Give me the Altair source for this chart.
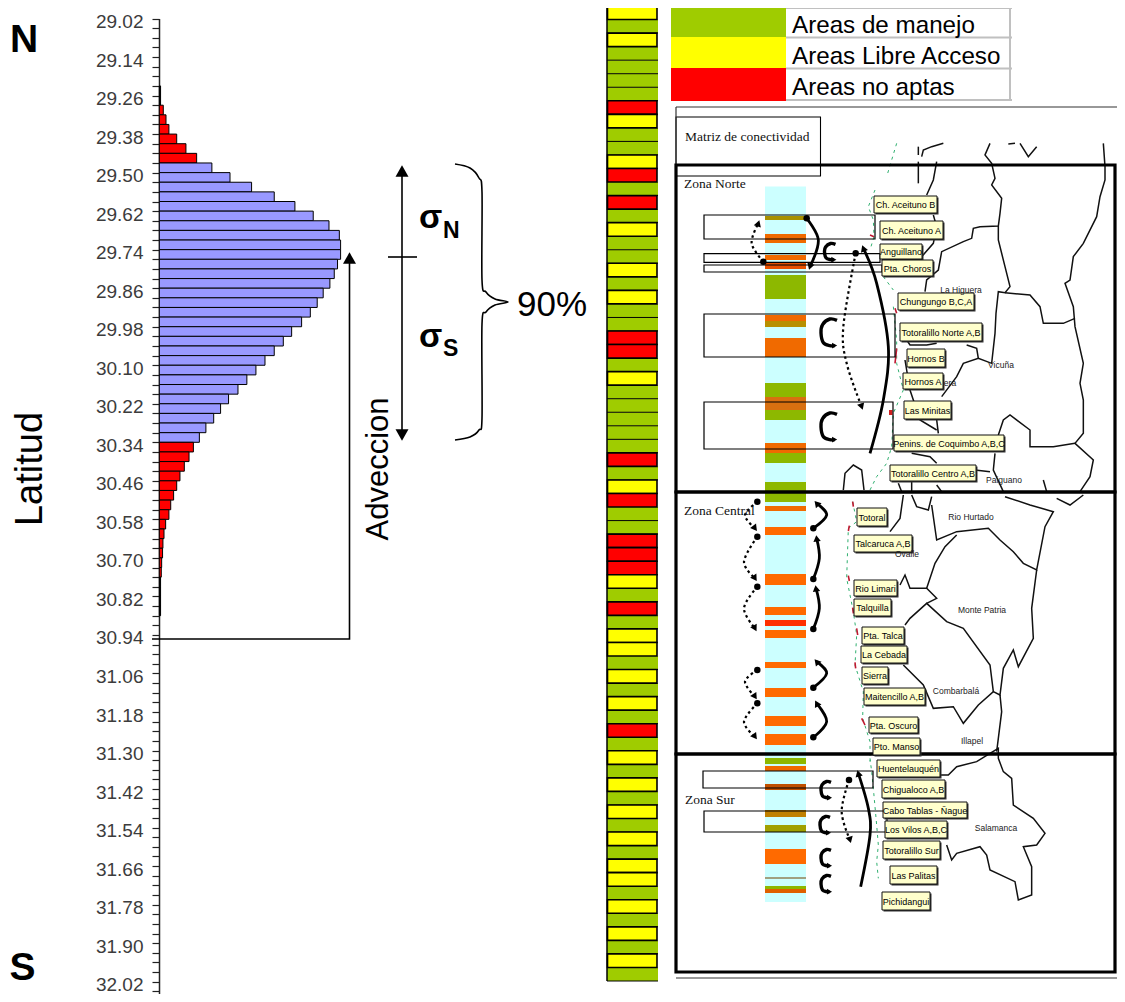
import math
import altair as alt
import pandas as pd

# ---------- histogram of latitude ----------
lat_start = 29.02
lat_step = 0.03
first_bin = 7
bin_freq = [0.7, 0.7, 2.2, 3.7, 5.3, 9.6, 14.7, 20.6,
            29.0, 39.0, 50.9, 63.4, 74.8, 84.9, 93.6, 99.3, 100, 100, 98.3, 96.5, 94.1, 90.4, 87.1, 83.3, 78.5, 73.0,
            68.4, 63.4, 58.3, 53.3, 48.3, 43.4, 38.2, 33.8, 30.0, 25.7, 22.1,
            18.8, 16.4, 13.8, 11.4, 9.6, 7.9, 6.3, 5.3, 3.5, 2.6, 2.0, 1.8, 1.3, 1.1,
            0.7, 0.7, 0.7, 0.7]
bin_zone = ['k'] * 2 + ['r'] * 6 + ['b'] * 29 + ['r'] * 14 + ['k'] * 4
zone_fill = {'k': '#000000', 'r': '#FF0000', 'b': '#9999FF'}

# ---------- management stripes ----------
stripe_class = list('ygygggg' 'ryggyrgrgyggygyggr' 'rgygggggrgyrggrrrygrgyyg' 'ygygrgygygygygyygygygyg')
stripe_fill = {'g': '#9FCC00', 'y': '#FFFF00', 'r': '#FF0000'}

legend_names = ['Areas de manejo', 'Areas Libre Acceso', 'Areas no aptas']
legend_colors = ['#9FCC00', '#FFFF00', '#FF0000']

# ---------- connectivity panel: strip bands (y from, y to, colour) ----------
band_y0 = [216, 234, 255, 262, 275, 315, 321, 338, 383, 397, 443, 453, 482, 506, 527, 574, 607, 620, 630, 662, 688, 716, 734,
           758, 766, 784, 810, 825, 849, 877, 886, 889]
band_y1 = [220, 243, 260, 269, 299, 321, 327, 357, 420, 410, 453, 463, 502, 511, 535, 585, 615, 626, 638, 668, 697, 726, 745,
           764, 771, 790, 817, 832, 864, 879, 889, 893]
band_col = ['#A89000', '#F06A00', '#F06A00', '#E85000', '#8DB800', '#F06A00', '#B89000', '#F06A00', '#8DB800', '#D87010',
            '#F06A00', '#8DB800', '#8DB800', '#F06A00', '#FF6A00', '#FF6A00', '#FF6A00', '#FF3000', '#FF6A00', '#FF6A00',
            '#FF6A00', '#FF6A00', '#FF6A00', '#8DB800', '#F06A00', '#C05000', '#C08000', '#A0A000', '#FF6A00', '#A0A080',
            '#8DB800', '#E06000']

# yellow place boxes: name, left, right, top, bottom
place_names = ['Ch. Aceituno B', 'Ch. Aceituno A', 'Anguillano', 'Pta. Choros', 'Chungungo B,C,A', 'Totoralillo Norte A,B',
               'Hornos B', 'Hornos A', 'Las Minitas', 'Penins. de Coquimbo A,B,C', 'Totoralillo Centro A,B',
               'Totoral', 'Talcaruca A,B', 'Rio Limari', 'Talquilla', 'Pta. Talca', 'La Cebada', 'Sierra',
               'Maitencillo A,B', 'Pta. Oscuro', 'Pto. Manso',
               'Huentelauquén', 'Chigualoco A,B', 'Cabo Tablas - Ñague', 'Los Vilos A,B,C', 'Totoralillo Sur',
               'Las Palitas', 'Pichidangui']
place_x0 = [874, 880, 880, 882, 898, 900, 907, 903, 904, 894, 890, 857, 854, 854, 854, 862, 861, 862, 864, 869, 873,
            877, 882, 883, 885, 883, 890, 882]
place_x1 = [937, 943, 922, 933, 974, 982, 945, 943, 951, 1004, 976, 887, 912, 897, 891, 904, 907, 888, 925, 918, 920,
            940, 945, 967, 947, 940, 937, 930]
place_y0 = [196, 221, 244, 260, 293, 323, 349, 373, 401, 435, 465, 508, 535, 580, 599, 627, 646, 667, 688, 717, 738,
            760, 780, 802, 821, 841, 866, 892]
place_y1 = [213, 239, 259, 276, 310, 341, 367, 389, 419, 451, 481, 526, 552, 596, 616, 644, 663, 684, 705, 733, 755,
            777, 798, 818, 838, 859, 884, 910]

town_names = ['La Higuera', 'Vicuña', 'era', 'Paiguano', 'Rio Hurtado', 'Ovalle', 'Monte Patria', 'Combarbalá', 'Illapel',
              'Salamanca']
town_x = [961, 1001, 950, 1004, 971, 907, 982, 956, 972, 996]
town_y = [293, 368, 386, 483, 520, 557, 613, 694, 744, 831]

# map outlines
map_lines_n = [
    [(755, 170), (760, 150), (785, 140), (820, 130)],
    [(800, 185), (790, 240), (770, 285)],
    [(745, 140), (745, 165)],
    [(745, 185), (745, 250)],
    [(960, 130), (945, 165), (965, 190), (975, 235), (965, 255), (995, 295), (990, 340), (985, 378), (930, 380), (910, 385),
     (905, 415), (880, 425), (815, 455), (805, 510), (770, 540), (765, 575)],
    [(985, 378), (985, 420), (1005, 500), (1020, 560), (1005, 578), (985, 575), (978, 640), (975, 700), (965, 790), (925, 775),
     (880, 790), (860, 830), (815, 890)],
    [(1005, 578), (1080, 585), (1110, 620), (1120, 670), (1180, 670), (1215, 655)],
    [(1300, 130), (1305, 200), (1305, 240), (1290, 290), (1280, 350), (1240, 430), (1210, 470), (1200, 540), (1185, 550),
     (1210, 620), (1215, 680), (1240, 790), (1230, 850), (1240, 900), (1240, 1000), (1215, 1030), (1270, 1080), (1260, 1130),
     (1230, 1175)],
    [(1215, 1030), (1150, 1040), (1080, 1040), (1080, 990), (1020, 945), (1000, 960), (985, 1005)],
    [(1050, 130), (1075, 170), (1100, 140)],
    [(1015, 132), (1035, 130)],
    [(690, 690), (720, 735), (770, 735), (800, 730)],
    [(890, 735), (920, 745), (925, 775)],
    [(705, 780), (720, 870), (750, 960), (800, 990)],
    [(800, 960), (805, 1000)],
    [(790, 345), (800, 380), (790, 430), (755, 470)],
    [(975, 1060), (970, 1110), (1000, 1175)],
    [(1120, 1140), (1130, 1175)],
    [(725, 1060), (780, 1070), (800, 1090)],
    [(915, 1110), (960, 1115)],
    [(725, 1145), (725, 1175)],
    [(685, 1150), (695, 1175)],
    [(800, 1155), (815, 1175)],
    [(520, 1170), (525, 1120), (550, 1095), (575, 1110), (582, 1170)],
]
map_lines_c = [
    [(700, 30), (690, 100), (660, 140)],
    [(725, 30), (740, 65), (775, 75), (785, 35)],
    [(785, 60), (800, 165), (860, 140), (955, 130), (990, 165), (1030, 200), (1060, 235), (1100, 255), (1125, 125), (1150, 80),
     (1080, 60), (1005, 35)],
    [(1100, 255), (1085, 370), (1090, 460), (1045, 545), (1030, 495), (1000, 550), (990, 630), (970, 620), (925, 660), (880, 715),
     (850, 665), (790, 670), (760, 600), (700, 540)],
    [(990, 630), (995, 680), (980, 800)],
    [(970, 620), (960, 540), (880, 430), (830, 410), (770, 355), (720, 400), (705, 420)],
    [(770, 355), (800, 340), (770, 310), (720, 310), (705, 270), (690, 300)],
    [(770, 310), (795, 235), (825, 185), (860, 150)],
    [(1240, 30), (1200, 60), (1160, 40)],
]
map_lines_s = [
    [(810, 90), (835, 90), (860, 65), (920, 50), (960, 25), (985, 10), (985, 40), (1000, 80), (1025, 100), (1030, 180), (1090, 220),
     (1125, 265), (1100, 300), (1060, 305), (1085, 365), (1085, 450), (1045, 465), (1035, 410), (960, 375), (950, 330), (930, 305),
     (860, 325), (845, 345), (830, 300)],
]
coast_n = [
    [(680, 130), (650, 230)],
    [(615, 270), (595, 320), (610, 360), (612, 410), (600, 450)],
    [(640, 530), (670, 570)],
    [(670, 620), (680, 720), (680, 790), (700, 870), (670, 940), (665, 1040), (650, 1090), (620, 1130), (600, 1170)],
]
coast_c = [[(548, 50), (560, 110), (535, 130), (530, 280), (550, 380), (560, 450), (555, 540), (580, 620), (578, 700), (600, 770), (600, 830)]]
coast_s = [[(600, 40), (605, 80), (610, 130), (620, 240), (625, 300), (620, 350), (625, 400)]]
red_marks_n = [[(675, 625), (680, 640)], [(680, 745), (675, 790)], [(600, 405), (612, 410)]]
red_marks_c = [[(548, 50), (550, 65)], [(538, 122), (535, 138)], [(535, 272), (538, 288)], [(548, 368), (550, 385)],
               [(560, 430), (563, 450)], [(555, 532), (557, 550)], [(575, 700), (585, 720)]]

# connectivity arrows
solid_n = [[(600, 1060), (640, 900), (655, 740), (620, 550), (580, 445)],
           [(410, 355), (445, 420), (420, 500)]]
dotted_n = [[(557, 460), (520, 680), (530, 790), (575, 920)],
            [(280, 485), (245, 430), (265, 370)]]
solid_c = [[(430, 130), (470, 90), (440, 55)], [(430, 282), (448, 220), (440, 160)], [(430, 432), (448, 370), (438, 310)],
           [(430, 608), (470, 565), (440, 530)], [(430, 757), (470, 710), (440, 655)]]
dotted_c = [[(262, 50), (225, 90), (255, 130)], [(262, 155), (222, 230), (255, 280)], [(262, 305), (222, 370), (255, 430)],
            [(262, 555), (225, 590), (255, 635)], [(262, 655), (222, 710), (255, 755)]]
solid_s = [[(572, 425), (600, 270), (595, 190), (565, 85)]]
dotted_s = [[(537, 105), (515, 200), (540, 285)]]
curl_centers = [(830, 252, 11, 17), (829, 333, 16, 28), (829, 427, 16, 28), (826, 790, 10, 17), (825, 825, 10, 17),
                (826, 858, 10, 17), (826, 884, 10, 17)]
curl_shape = [(.5, -.45), (.05, -.5), (-.4, -.3), (-.5, 0), (-.35, .35), (.05, .45), (.35, .45)]

brace = [(455, 164), (470, 168), (479, 178), (482, 192), (482, 280), (486, 292), (495, 299), (508, 302), (495, 305), (486, 312),
         (482, 324), (482, 418), (479, 430), (470, 437), (455, 440)]


# ---------- helpers ----------
def N(pts):
    return [(670 + x / 3, 100 + y / 3) for x, y in pts]


def C(pts):
    return [(670 + x / 3, 485 + y / 3) for x, y in pts]


def S(pts):
    return [(670 + x / 3, 745 + y / 3) for x, y in pts]


W, H = 1109, 986
PX = alt.Scale(domain=[8, 8 + W], range=[0, W], nice=False, zero=False)
PY = alt.Scale(domain=[8, 8 + H], range=[0, H], nice=False, zero=False)
ST = alt.Scale(domain=[0, 72], range=[-2, 973], nice=False, zero=False)
Xp = alt.X('x:Q', scale=PX, axis=None)
Yp = alt.Y('y:Q', scale=PY, axis=None)


def lines_df(polys):
    rows = []
    for i, poly in enumerate(polys):
        for j, (x, y) in enumerate(poly):
            rows.append({'id': i, 'o': j, 'x': x, 'y': y})
    return pd.DataFrame(rows)


def line_layer(polys, **mk):
    return alt.Chart(lines_df(polys)).mark_line(**mk).encode(x=Xp, y=Yp, detail='id:N', order='o:Q')


def rect_df(x0, x1, y0, y1, **extra):
    d = pd.DataFrame({'x': x0, 'x1': x1, 'y': y0, 'y1': y1})
    for k, v in extra.items():
        d[k] = v
    return d


def rect_layer(df, **mk):
    return alt.Chart(df).mark_rect(**mk).encode(x=Xp, x2='x1:Q', y=Yp, y2='y1:Q')


def text_layer(txt, xs, ys, **mk):
    d = pd.DataFrame({'t': txt, 'x': xs, 'y': ys})
    mk.setdefault('font', 'Liberation Sans')
    mk.setdefault('baseline', 'alphabetic')
    mk.setdefault('align', 'left')
    return alt.Chart(d).mark_text(**mk).encode(x=Xp, y=Yp, text='t:N')


def heads(polys, size):
    rows = []
    for p in polys:
        (x0, y0), (x1, y1) = p[-2], p[-1]
        rows.append({'x': x1, 'y': y1, 'a': (math.degrees(math.atan2(x1 - x0, -(y1 - y0)))) % 360})
    return alt.Chart(pd.DataFrame(rows)).mark_point(shape='triangle-up', filled=True, fill='black', opacity=1, size=size,
                                                    stroke='black', strokeWidth=0).encode(
        x=Xp, y=Yp, angle=alt.Angle('a:Q', scale=None))


def dots(polys, size):
    d = pd.DataFrame({'x': [p[0][0] for p in polys], 'y': [p[0][1] for p in polys]})
    return alt.Chart(d).mark_circle(color='black', opacity=1, size=size).encode(x=Xp, y=Yp)


layers = []

# ---- histogram with latitude axis
hist = pd.DataFrame({
    'lat0': [lat_start + lat_step * (first_bin + i) for i in range(len(bin_freq))],
    'lat1': [lat_start + lat_step * (first_bin + i + 1) for i in range(len(bin_freq))],
    'freq': bin_freq,
    'base': [0] * len(bin_freq),
    'fillc': [zone_fill[z] for z in bin_zone],
})
lat_ticks = [round(lat_start + lat_step * i, 2) for i in range(104)]
lat_scale = alt.Scale(domain=[lat_ticks[0], lat_ticks[-1]], range=[10.5, 10.5 + 103 * 9.632], nice=False, zero=False)
lat_axis = alt.Axis(orient='left', offset=-151, values=lat_ticks, title=None, grid=False,
                    labelExpr="round((datum.value-29.02)/0.03)%4==0 ? format(datum.value,'.2f') : ''",
                    labelFont='Liberation Sans', labelFontSize=19, labelColor='#3c3c3c', labelPadding=9, labelOverlap=False,
                    labelOffset=3, labelFlush=False, labelBound=False,
                    tickSize=7, tickColor='#222222', tickWidth=1.2, domainColor='#222222', domainWidth=1.5)
layers.append(alt.Chart(hist).mark_rect(stroke='black', strokeWidth=1).encode(
    x=alt.X('base:Q', scale=alt.Scale(domain=[0, 100], range=[151.3, 332.6], nice=False, zero=False), axis=None),
    x2='freq:Q',
    y=alt.Y('lat0:Q', scale=lat_scale, axis=lat_axis),
    y2='lat1:Q',
    fill=alt.Fill('fillc:N', scale=None)))

# ---- left annotations
layers.append(line_layer([[(152, 639), (349.5, 639), (349.5, 262)], [(402, 172), (402, 434)], [(388, 257), (417, 257)]],
                         color='black', strokeWidth=1.6))
layers.append(heads([[(349.5, 300), (349.5, 258)], [(402, 200), (402, 171)]], 169))
layers.append(heads([[(402, 400), (402, 435)]], 169))
layers.append(line_layer([brace], color='black', strokeWidth=1.6, interpolate='cardinal'))
layers.append(text_layer(['N', 'S'], [10, 9.5], [52, 980], fontSize=39, fontWeight='bold', color='black'))
layers.append(text_layer(['Latitud'], [42], [469], fontSize=38, angle=270, align='center', color='black'))
layers.append(text_layer(['Adveccion'], [388], [469], fontSize=31, angle=270, align='center', color='black'))
layers.append(text_layer(['σ', 'σ'], [419, 419], [228, 347], fontSize=34, fontWeight='bold', color='black'))
layers.append(text_layer(['N', 'S'], [443, 443], [238, 356], fontSize=23, fontWeight='bold', color='black'))
layers.append(text_layer(['90%'], [517], [316], fontSize=35, color='black'))

# ---- stripes
st = pd.DataFrame({'i': range(len(stripe_class)), 'i1': range(1, len(stripe_class) + 1), 'c': stripe_class})
st['fillc'] = st['c'].map(stripe_fill)
st_y = alt.Y('i:Q', scale=ST, axis=None)
layers.append(alt.Chart(st[st.c == 'g']).mark_rect().encode(
    x=alt.value(599), x2=alt.value(650), y=st_y, y2='i1:Q', fill=alt.Fill('fillc:N', scale=None)))
layers.append(alt.Chart(st[st.c == 'g']).mark_rule(color='black', strokeWidth=1).encode(
    x=alt.value(599), x2=alt.value(650), y=alt.Y('i1:Q', scale=ST, axis=None)))
layers.append(alt.Chart(st[st.c == 'g'].head(1)).mark_rule(color='black', strokeWidth=1.5).encode(
    x=alt.value(599), y=alt.value(-2), y2=alt.value(973)))
layers.append(alt.Chart(st[st.c != 'g']).mark_rect(stroke='black', strokeWidth=1.6).encode(
    x=alt.value(599.5), x2=alt.value(649), y=st_y, y2='i1:Q', fill=alt.Fill('fillc:N', scale=None)))

# ---- legend table
leg = rect_df([671] * 3, [786] * 3, [6, 37, 68], [37, 68, 101])
leg['fillc'] = legend_colors
layers.append(alt.Chart(leg).mark_rect().encode(x=Xp, x2='x1:Q', y=Yp, y2='y1:Q', fill=alt.Fill('fillc:N', scale=None)))
layers.append(line_layer([[(786, 8), (1012, 8)], [(786, 37.5), (1012, 37.5)], [(786, 68.5), (1012, 68.5)], [(786, 100), (1012, 100)],
                          [(1010, 6), (1010, 101)], [(897, 5), (897, 9)]], color='#C0C0C0', strokeWidth=2))
layers.append(text_layer(legend_names, [792] * 3, [32.5, 63.5, 94.5], fontSize=24.2, color='black'))

# ---- connectivity panel
layers.append(rect_layer(rect_df([765], [806], [186.5], [902]), fill='#CCFFFF'))
bands = rect_df([765] * len(band_y0), [806] * len(band_y0), band_y0, band_y1)
bands['fillc'] = band_col
layers.append(alt.Chart(bands).mark_rect().encode(x=Xp, x2='x1:Q', y=Yp, y2='y1:Q', fill=alt.Fill('fillc:N', scale=None)))

layers.append(line_layer(
    [N(p) for p in map_lines_n] + [C(p) for p in map_lines_c] + [S(p) for p in map_lines_s],
    color='#111111', strokeWidth=1.5))
layers.append(line_layer(
    [N(p) for p in coast_n] + [C(p) for p in coast_c] + [S(p) for p in coast_s],
    color='#30B070', strokeWidth=1, strokeDash=[3, 4]))
layers.append(line_layer([N(p) for p in red_marks_n] + [C(p) for p in red_marks_c], color='#C01830', strokeWidth=1.6))
layers.append(rect_layer(rect_df([889], [892.5], [410], [415]), fill='#D02020'))

layers.append(rect_layer(
    rect_df([704, 704, 704, 704, 704, 703, 704], [875, 880, 882, 895, 893, 873, 887],
            [215, 253.7, 265, 314, 402, 771, 811], [239, 262.3, 272, 357, 449, 788, 832]),
    fill='white', fillOpacity=0, stroke='black', strokeWidth=1.2))
layers.append(rect_layer(rect_df([676], [820.5], [117], [176]), fill='white', fillOpacity=0, stroke='black', strokeWidth=1.1))
layers.append(line_layer([[(676, 107), (1117, 107)], [(676, 107), (676, 165)], [(676, 978), (1117, 978)]],
                         color='#333333', strokeWidth=1.2))
layers.append(rect_layer(rect_df([676, 676, 676], [1115, 1115, 1115], [165, 492, 754], [492, 754, 972]),
                         fill='white', fillOpacity=0, stroke='black', strokeWidth=3.2))

# arrows
layers.append(line_layer([N(p) for p in solid_n] + [C(p) for p in solid_c] + [S(p) for p in solid_s],
                         color='black', strokeWidth=2.8, interpolate='cardinal'))
layers.append(line_layer([N(p) for p in dotted_n] + [C(p) for p in dotted_c] + [S(p) for p in dotted_s],
                         color='black', strokeWidth=2.2, strokeDash=[2.5, 3], interpolate='cardinal'))
all_arrows = [N(p) for p in solid_n + dotted_n] + [C(p) for p in solid_c + dotted_c] + [S(p) for p in solid_s + dotted_s]
layers.append(heads(all_arrows, 55))
layers.append(dots([N(p) for p in [solid_n[1], dotted_n[0], dotted_n[1]]] + [C(p) for p in solid_c + dotted_c] +
                   [S(p) for p in dotted_s], 42))

curls = [[(cx + u * w, cy + v * h) for u, v in curl_shape] for cx, cy, w, h in curl_centers]
layers.append(line_layer(curls, color='black', strokeWidth=3.4, interpolate='cardinal'))
layers.append(heads([[c[-2], c[-1]] for c in curls], 35))

# place boxes
boxes = rect_df(place_x0, place_x1, place_y0, place_y1)
shadow = boxes.assign(x=boxes.x + 1.5, x1=boxes.x1 + 1.5, y=boxes.y + 1.5, y1=boxes.y1 + 1.5)
layers.append(rect_layer(shadow, fill='#333333'))
layers.append(rect_layer(boxes, fill='#FFFFCC', stroke='#111111', strokeWidth=1))
layers.append(text_layer(place_names, [(a + b) / 2 for a, b in zip(place_x0, place_x1)],
                         [(a + b) / 2 + 3.5 for a, b in zip(place_y0, place_y1)],
                         fontSize=9, align='center', color='black'))
layers.append(text_layer(town_names, town_x, town_y, fontSize=8.5, align='center', color='#222222'))
layers.append(text_layer(['Matriz de conectividad', 'Zona Norte', 'Zona Central', 'Zona Sur'],
                         [685, 684, 684, 685], [141, 188, 515, 804], font='Liberation Serif', fontSize=13.5, color='#111111'))

chart = alt.layer(*layers).resolve_scale(x='independent', y='independent').properties(
    width=W, height=H, padding=0, autosize=alt.AutoSizeParams(type='none')
).configure_view(stroke=None)

chart.save("out.html", embed_options={"renderer": "svg", "actions": False})
